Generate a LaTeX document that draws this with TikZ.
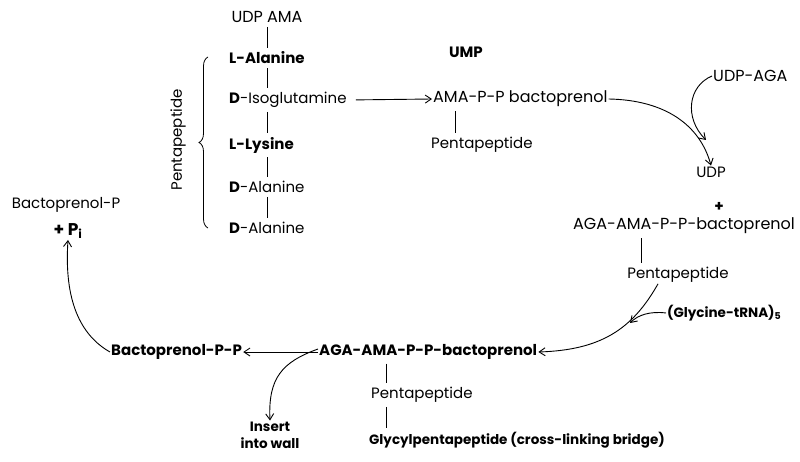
\documentclass[tikz,border=0pt]{standalone}
\usepackage{fontspec}
\setmainfont{Poppins}
\usetikzlibrary{arrows.meta,positioning,calc,decorations.pathreplacing}

\begin{document}
\begin{tikzpicture}[x=1pt, y=-1pt,
        every node/.style={font=\fontsize{15}{18}\selectfont, inner sep=1pt},
        hand/.style={font=\fontsize{15}{18}\selectfont\bfseries},
        small/.style={font=\fontsize{13.5}{17}\selectfont\bfseries},
        big/.style={font=\fontsize{16}{19}\selectfont},
        bond/.style={line width=0.7pt, shorten <=3pt, shorten >=3pt},
        flow/.style={line width=0.9pt, -{Straight Barb[length=6pt,width=8pt]}}
      ]
        % Bildrahmen
        \useasboundingbox (0,0) rectangle (800,462);

        % Pentapeptid-Kette
        \coordinate (bx) at (267,0);
        \node[big] (udpama) at (267,17) {UDP AMA};
        \node[anchor=west, hand] (lala) at (228,58) {L-Alanine};
        \node[anchor=west] (diso) at (228,100) {\textbf{D}-Isoglutamine};
        \node[anchor=west, hand] (llys) at (228,145) {L-Lysine};
        \node[anchor=west] (dala1) at (228,187) {\textbf{D}-Alanine};
        \node[anchor=west] (dala2) at (228,228) {\textbf{D}-Alanine};

        \draw[bond] (bx |- udpama.south) -- (bx |- lala.north);
        \draw[bond] (bx |- lala.south) -- (bx |- diso.north);
        \draw[bond] (bx |- diso.south) -- (bx |- llys.north);
        \draw[bond] (bx |- llys.south) -- (bx |- dala1.north);
        \draw[bond] (bx |- dala1.south) -- (bx |- dala2.north);

        % Klammer
        \coordinate (brtop) at (208,57);
        \coordinate (brbot) at (208,228);
        \draw[line width=0.8pt, decorate, decoration={brace, amplitude=9pt}] (brbot) -- (brtop);
        \node[rotate=90] (pent0) at (178,140) {Pentapeptide};

        % obere Reihe
        \node[hand] (ump) at (466,52) {UMP};
        \node[anchor=west, big] (amapp) at (432,99) {AMA-P-P bactoprenol};
        \node[anchor=west] (pent1) at (430,145) {Pentapeptide};
        \coordinate (ax) at (455,0);
        \draw[bond] (ax |- amapp.south) -- (ax |- pent1.north);
        \draw[flow, shorten <=8pt] (diso.east) -- (amapp.west);

        % rechte Spalte
        \node[anchor=west, big] (udpaga) at (712,76) {UDP-AGA};
        \node (udp) at (711,172) {UDP};
        \node[hand] (plus) at (719,207) {+};
        \node[big] (agaamaup) at (684,226) {AGA-AMA-P-P-bactoprenol};
        \node (pent2) at (678,275) {Pentapeptide};
        \coordinate (cx) at (641,0);
        \draw[bond] (cx |- agaamaup.south) -- (cx |- pent2.north);

        \coordinate (udpin) at (706,140);
        \draw[flow] (amapp.east) .. controls (665,100) and (700,125) .. (udp.north);
        \draw[flow] (udpaga.west) .. controls (688,86) and (684,118) .. (udpin);

        % Glycin
        \node[anchor=west, small] (gly) at (666,313) {(Glycine-tRNA)$_\mathbf{5}$};
        \coordinate (glyin) at (630,323);
        \draw[flow] (gly.west) .. controls (650,311) and (638,315) .. (glyin);

        % untere Reihe
        \node[anchor=west, hand] (agaama) at (318,352) {AGA-AMA-P-P-bactoprenol};
        \node[anchor=west] (pent3) at (370,395) {Pentapeptide};
        \node[anchor=west, small] (glyc) at (368,440) {Glycylpentapeptide (cross-linking bridge)};
        \coordinate (dx) at (386,0);
        \draw[bond] (dx |- agaama.south) -- (dx |- pent3.north);
        \draw[bond] (dx |- pent3.south) -- (dx |- glyc.north);
        \draw[flow] ([xshift=-20pt]pent2.south) .. controls (632,330) and (600,350) .. (agaama.east);

        \node[anchor=west, hand] (bppp) at (110,352) {Bactoprenol-P-P};
        \draw[flow] (agaama.west) -- (bppp.east);

        \node[small, align=center] (insert) at (270,435) {Insert\\into wall};
        \draw[flow] ([yshift=3pt]agaama.west) .. controls (282,362) and (268,378) .. (insert.north);

        % Kreislauf zurück
        \node (bpp) at (66,205) {Bactoprenol-P};
        \node[font=\fontsize{17}{20}\selectfont\bfseries] (pi) at (68,231) {+ P$_\mathbf{i}$};
        \draw[flow] (bppp.west) .. controls (80,335) and (64,300) .. (pi.south);
      \end{tikzpicture}
\end{document}
